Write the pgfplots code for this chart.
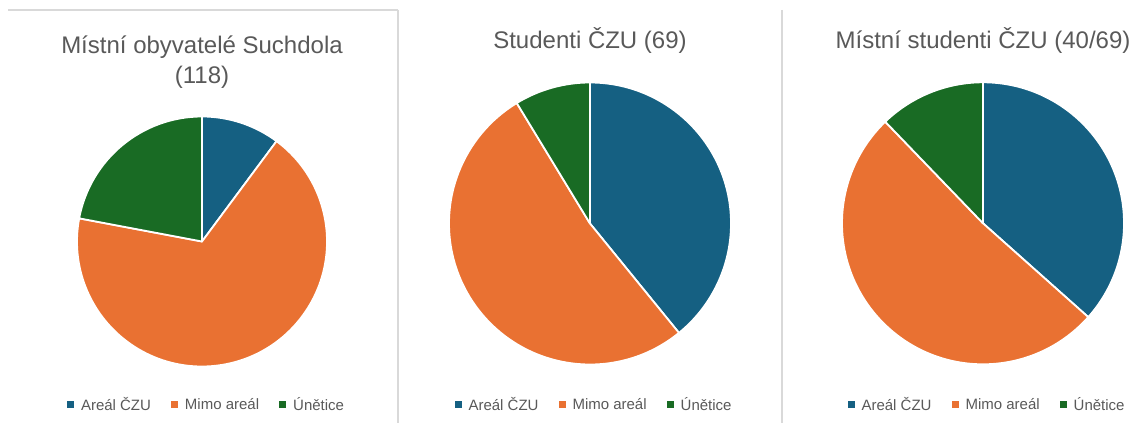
\documentclass[border=0pt]{standalone}
\usepackage{pgfplots}
\pgfplotsset{compat=1.18}
\usepackage{pgfplotstable}
\usepackage{fontspec}
\setmainfont{Liberation Sans}

\definecolor{cBlue}{HTML}{156082}
\definecolor{cOrange}{HTML}{E97132}
\definecolor{cGreen}{HTML}{196B24}
\definecolor{cText}{HTML}{595959}
\definecolor{cLine}{HTML}{D9D9D9}

% counts per category
\pgfplotstableread{
cat val
Areal 12
Mimo 80
Unetice 26
}\tabObyv
\pgfplotstableread{
cat val
Areal 27
Mimo 36
Unetice 6
}\tabStud
\pgfplotstableread{
cat val
Areal 15
Mimo 21
Unetice 5
}\tabMist

% #1 table, #2 cx, #3 cy, #4 radius (axis units = bp)
\newcommand{\drawpie}[4]{%
  \pgfplotstablegetelem{0}{val}\of{#1}\let\va\pgfplotsretval
  \pgfplotstablegetelem{1}{val}\of{#1}\let\vb\pgfplotsretval
  \pgfplotstablegetelem{2}{val}\of{#1}\let\vc\pgfplotsretval
  \pgfmathsetmacro\tot{\va+\vb+\vc}
  \pgfmathsetmacro\dstep{360/\tot}
  \pgfmathsetmacro\aB{90-\dstep*\va}
  \pgfmathsetmacro\aC{\aB-\dstep*\vb}
  \edef\temp{%
    \noexpand\filldraw[fill=cBlue,draw=white,line width=1.8bp,line join=round] (axis cs:#2,#3) -- ++(90:#4bp) arc[start angle=90,end angle=\aB,radius=#4bp] -- cycle;
    \noexpand\filldraw[fill=cOrange,draw=white,line width=1.8bp,line join=round] (axis cs:#2,#3) -- ++(\aB:#4bp) arc[start angle=\aB,end angle=\aC,radius=#4bp] -- cycle;
    \noexpand\filldraw[fill=cGreen,draw=white,line width=1.8bp,line join=round] (axis cs:#2,#3) -- ++(\aC:#4bp) arc[start angle=\aC,end angle=-270,radius=#4bp] -- cycle;
  }\temp
}

\pgfplotsset{
  piepanel/.style={
    x=1bp,y=1bp,xmin=0,xmax=1136,ymin=0,ymax=423,
    hide axis,clip=false,at={(0,0)},anchor=origin,
    legend columns=3,
    legend style={draw=none,fill=none,anchor=center,inner sep=0pt,
      font=\fontsize{15bp}{18bp}\selectfont,text=cText,
      /tikz/every even column/.append style={column sep=18bp}},
    legend image code/.code={\path[draw=none,fill=none] (0bp,-3.5bp) rectangle (12bp,3.5bp);\fill[##1,draw=none] (0bp,-3.5bp) rectangle (7bp,3.5bp);},
  },
}
\tikzset{titlefont/.style={font=\fontsize{24bp}{29bp}\selectfont,text=cText,anchor=base}}

\begin{document}
\begin{tikzpicture}
\useasboundingbox (0,0) rectangle (1136bp,423bp);

\begin{axis}[piepanel,legend style={at={(axis description cs:0.1818,0.0426)}}]
\addlegendimage{fill=cBlue}\addlegendentry{Areál ČZU}
\addlegendimage{fill=cOrange}\addlegendentry{Mimo areál}
\addlegendimage{fill=cGreen}\addlegendentry{Únětice}
\draw[cLine,line width=1.2bp] (axis cs:8,413) -- (axis cs:398,413);
\draw[cLine,line width=1.2bp] (axis cs:398,413) -- (axis cs:398,0);
\draw[cLine,line width=1.2bp] (axis cs:782,413) -- (axis cs:782,0);
\node[titlefont] at (axis cs:202,370) {Místní obyvatelé Suchdola};
\node[titlefont] at (axis cs:202,340) {(118)};
\drawpie{\tabObyv}{202}{181.5}{125}
\end{axis}

\begin{axis}[piepanel,legend style={at={(axis description cs:0.5229,0.0426)}}]
\addlegendimage{fill=cBlue}\addlegendentry{Areál ČZU}
\addlegendimage{fill=cOrange}\addlegendentry{Mimo areál}
\addlegendimage{fill=cGreen}\addlegendentry{Únětice}
\node[titlefont] at (axis cs:590,374) {Studenti ČZU (69)};
\drawpie{\tabStud}{590}{199.5}{141}
\end{axis}

\begin{axis}[piepanel,legend style={at={(axis description cs:0.8689,0.0426)}}]
\addlegendimage{fill=cBlue}\addlegendentry{Areál ČZU}
\addlegendimage{fill=cOrange}\addlegendentry{Mimo areál}
\addlegendimage{fill=cGreen}\addlegendentry{Únětice}
\node[titlefont] at (axis cs:983,374) {Místní studenti ČZU (40/69)};
\drawpie{\tabMist}{983}{199.7}{141}
\end{axis}
\end{tikzpicture}
\end{document}
